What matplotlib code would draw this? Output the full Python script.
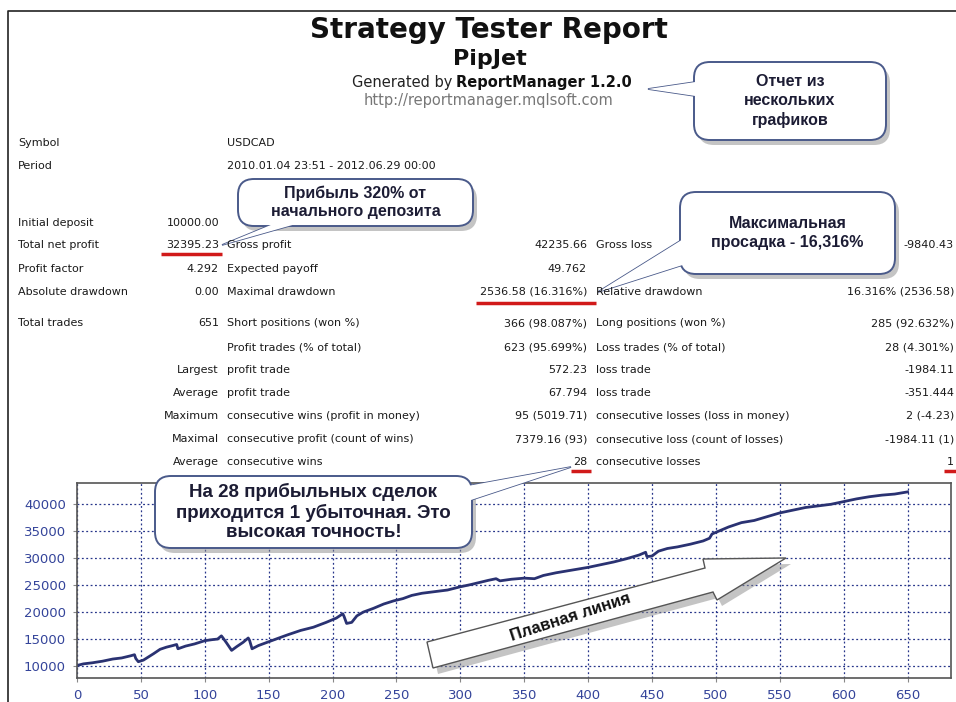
import matplotlib
matplotlib.use("Agg")
import matplotlib.pyplot as plt
from matplotlib.patches import FancyBboxPatch, Polygon

# balance curve
trade_no = [0, 5, 12, 20, 28, 35, 42, 45, 46, 48, 52, 56, 60, 65, 70, 75, 78, 79,
            85, 92, 100, 106, 110, 113, 114, 117, 119, 121, 125, 130, 134, 135, 137,
            142, 150, 158, 165, 175, 185, 195, 203, 208, 209, 211, 215, 219, 224, 232,
            240, 248, 255, 262, 270, 280, 290, 300, 308, 315, 322, 328, 331, 340, 350,
            358, 365, 375, 385, 395, 400, 410, 420, 430, 440, 445, 446, 450, 455, 462,
            470, 480, 490, 495, 497, 502, 510, 520, 530, 540, 550, 560, 570, 580, 590,
            600, 610, 620, 630, 640, 650]
balance = [10100, 10400, 10600, 10900, 11300, 11500, 11900, 12100, 11400, 10800, 11100,
           11700, 12300, 13100, 13500, 13800, 14000, 13200, 13700, 14100, 14700, 14900,
           15000, 15600, 15300, 14300, 13600, 12900, 13600, 14400, 15200, 14800, 13200,
           13800, 14500, 15200, 15800, 16600, 17200, 18100, 18900, 19700, 19200, 17900,
           18100, 19300, 20000, 20700, 21500, 22100, 22500, 23100, 23500, 23800, 24100,
           24700, 25100, 25500, 25900, 26200, 25800, 26100, 26300, 26200, 26800, 27300,
           27700, 28100, 28300, 28800, 29300, 29900, 30600, 31100, 30300, 30400, 31300,
           31800, 32100, 32600, 33200, 33700, 34500, 35000, 35800, 36600, 37000, 37700,
           38400, 38900, 39400, 39700, 40000, 40500, 41000, 41400, 41700, 41900, 42300]
x_ticks = list(range(0, 651, 50))
y_ticks = [10000, 15000, 20000, 25000, 30000, 35000, 40000]

# report table: (label, value, label2, value2, label3, value3)
rows_y = [143, 166, 223, 245, 269, 292, 323, 347, 370, 393, 416, 439, 462]
col1 = ["Symbol", "Period", "Initial deposit", "Total net profit", "Profit factor",
        "Absolute drawdown", "Total trades", "", "", "", "", "", ""]
val1 = ["", "", "10000.00", "32395.23", "4.292", "0.00", "651", "", "Largest",
        "Average", "Maximum", "Maximal", "Average"]
col2 = ["USDCAD", "2010.01.04 23:51 - 2012.06.29 00:00", "", "Gross profit",
        "Expected payoff", "Maximal drawdown", "Short positions (won %)",
        "Profit trades (% of total)", "profit trade", "profit trade",
        "consecutive wins (profit in money)", "consecutive profit (count of wins)",
        "consecutive wins"]
val2 = ["", "", "", "42235.66", "49.762", "2536.58 (16.316%)", "366 (98.087%)",
        "623 (95.699%)", "572.23", "67.794", "95 (5019.71)", "7379.16 (93)", "28"]
col3 = ["", "", "", "Gross loss", "", "Relative drawdown", "Long positions (won %)",
        "Loss trades (% of total)", "loss trade", "loss trade",
        "consecutive losses (loss in money)", "consecutive loss (count of losses)",
        "consecutive losses"]
val3 = ["", "", "", "-9840.43", "", "16.316% (2536.58)", "285 (92.632%)",
        "28 (4.301%)", "-1984.11", "-351.444", "2 (-4.23)", "-1984.11 (1)", "1"]

W, H = 956, 702
fig = plt.figure(figsize=(W / 100, H / 100), dpi=100)
fig.patch.set_facecolor("white")

navy = "#2a3272"
tick_blue = "#34449a"

# ---- balance chart ----
ax = fig.add_axes([77 / W, (H - 678) / H, (951 - 77) / W, (678 - 483) / H], zorder=1)
ax.plot(trade_no, balance, color=navy, lw=2)
ax.set_xlim(0, 684)
ax.set_ylim(7780, 43950)
ax.set_xticks(x_ticks)
ax.set_yticks(y_ticks)
ax.grid(True, color="#27358a", linestyle=(0, (1.5, 2)), lw=0.9)
ax.tick_params(colors="#888888", labelcolor=tick_blue, labelsize=9.5, length=3,
               pad=5)
for s in ax.spines.values():
    s.set_color("#555555")
    s.set_linewidth(1.2)

# ---- overlay in pixel coords ----
ov = fig.add_axes([0, 0, 1, 1], zorder=5)
ov.set_xlim(0, W)
ov.set_ylim(H, 0)
ov.axis("off")
ov.patch.set_alpha(0)

ov.plot([8, 8, W], [H, 11, 11], color="#222222", lw=1.2)

ov.text(489, 30, "Strategy Tester Report", ha="center", va="center",
        fontsize=20, fontweight="bold", color="#111111")
ov.text(490, 59, "PipJet", ha="center", va="center", fontsize=16,
        fontweight="bold", color="#111111")
ov.text(452, 82, "Generated by", ha="right", va="center", fontsize=10.5,
        color="#222222")
ov.text(456, 82, "ReportManager 1.2.0", ha="left", va="center", fontsize=10.5,
        fontweight="bold", color="#111111")
ov.text(489, 101, "http://reportmanager.mqlsoft.com", ha="center", va="center",
        fontsize=10.5, color="#777777")

tf = dict(fontsize=8, color="#1a1a1a", va="center", family="DejaVu Sans")
for i, y in enumerate(rows_y):
    ov.text(18, y, col1[i], ha="left", **tf)
    ov.text(219, y, val1[i], ha="right", **tf)
    ov.text(227, y, col2[i], ha="left", **tf)
    ov.text(587, y, val2[i], ha="right", **tf)
    ov.text(596, y, col3[i], ha="left", **tf)
    ov.text(954, y, val3[i], ha="right", **tf)

red = "#d11a1a"
for x0, x1, y in [(161, 222, 254), (476, 596, 303), (571, 591, 471), (944, 956, 471)]:
    ov.plot([x0, x1], [y, y], color=red, lw=2.5, solid_capstyle="butt")

# ---- callouts ----
edge = "#4a5a8a"
txt_col = "#1c1c34"


def callout(x0, y0, x1, y1, tail, lines, fs, cx=None, cy=None, ls=1.35):
    # shadow
    ov.add_patch(FancyBboxPatch((x0 + 4, y0 + 5), x1 - x0, y1 - y0,
                                boxstyle="round,pad=0,rounding_size=16",
                                fc="#8a8a8a", ec="none", alpha=0.5))
    ov.add_patch(Polygon(tail, closed=True, fc="white", ec=edge, lw=1.2))
    ov.add_patch(FancyBboxPatch((x0, y0), x1 - x0, y1 - y0,
                                boxstyle="round,pad=0,rounding_size=16",
                                fc="white", ec=edge, lw=1.4))
    ov.add_patch(Polygon(tail, closed=True, fc="white", ec="none"))
    cx = (x0 + x1) / 2 if cx is None else cx
    cy = (y0 + y1) / 2 if cy is None else cy
    ov.text(cx, cy, lines, ha="center", va="center", fontsize=fs,
            fontweight="bold", color=txt_col, family="Liberation Sans",
            linespacing=ls)


callout(694, 62, 886, 140, [(702, 81), (702, 97), (648, 89)],
        "Отчет из\nнескольких\nграфиков", 11.5, ls=1.3)
callout(238, 179, 473, 226, [(283, 220), (310, 220), (222, 245)],
        "Прибыль 320% от\nначального депозита", 11.5, ls=1.25)
callout(680, 192, 895, 274, [(688, 236), (692, 262), (598, 292)],
        "Максимальная\nпросадка - 16,316%", 11.5, cy=233, ls=1.3)
callout(155, 476, 472, 548, [(462, 487), (462, 503), (571, 467)],
        "На 28 прибыльных сделок\nприходится 1 убыточная. Это\nвысокая точность!",
        13.5, ls=1.2)

# big arrow "Плавная линия"
arrow_pts = [(427, 642), (705, 568), (703, 559), (786, 558), (717, 600),
             (713, 592), (433, 668)]
ov.add_patch(Polygon([(x + 5, y + 6) for x, y in arrow_pts], closed=True,
                     fc="#8a8a8a", ec="none", alpha=0.5))
ov.add_patch(Polygon(arrow_pts, closed=True, fc="white", ec="#555555", lw=1.0))
ov.text(570, 617, "Плавная линия", ha="center", va="center", rotation=18,
        fontsize=12, fontweight="bold", color="#111111", family="Liberation Sans",
        rotation_mode="anchor")

fig.savefig("out.png", dpi=100)
